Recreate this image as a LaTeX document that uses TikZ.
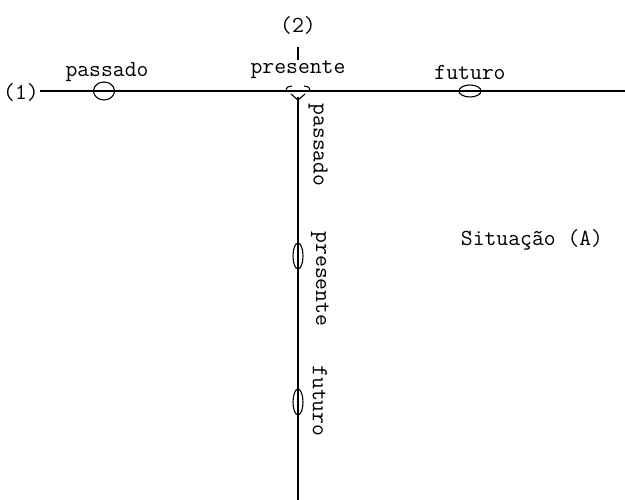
\documentclass[tikz,border=0pt]{standalone}
\usetikzlibrary{shapes.geometric}
\begin{document}
\begin{tikzpicture}[x=1pt,y=-1pt,
  lbl/.style={font=\ttfamily\fontsize{23}{25}\selectfont, inner sep=0pt},
  ln/.style={line width=1.3pt},
  ring/.style={draw, ellipse, line width=1.1pt, inner sep=0pt, fill=white}]
\useasboundingbox (0,0) rectangle (625,500);
% endpoints
\node[lbl] (one) at (21,92) {(1)};
\coordinate (hstart) at (40,91);
\coordinate (hend) at (625,91);
\coordinate (vtop) at (298,97);
\coordinate (vend) at (298,500);
\node[lbl] (two) at (298,25) {(2)};
\coordinate (tickA) at (298,47);
\coordinate (tickB) at (298,60);
% lines
\draw[ln] (hstart) -- (hend);
\draw[ln] (vtop) -- (vend);
\draw[line width=1.1pt] (tickA) -- (tickB);
% horizontal markers
\node[ring, minimum width=21pt, minimum height=18pt] (hp) at (104,91) {};
\draw[ln] (hp.west) -- (hp.east);
\node[ring, minimum width=22pt, minimum height=12pt] (hf) at (470,91) {};
\draw[ln] (hf.west) -- (hf.east);
% presente broken marker
\draw[line width=1.1pt] (286,91) .. controls (286,87) and (289,86) .. (292,86);
\draw[line width=1.1pt] (304,86) .. controls (307,86) and (310,87) .. (310,91);
\draw[line width=1.1pt] (291,94) -- (298,100) -- (305,94);
% vertical markers
\node[ring, minimum width=10pt, minimum height=26pt] (vp) at (298,256) {};
\draw[ln] (vp.north) -- (vp.south);
\node[ring, minimum width=10pt, minimum height=26pt] (vf) at (298,402) {};
\draw[ln] (vf.north) -- (vf.south);
% labels
\node[lbl] (lp) at (107,72) {passado};
\node[lbl] (lpr) at (298,70) {presente};
\node[lbl] (lf) at (470,72) {futuro};
\node[lbl, rotate=-90] (vlp) at (318,145) {passado};
\node[lbl, rotate=-90] (vlpr) at (320,279) {presente};
\node[lbl, rotate=-90] (vlf) at (320,401) {futuro};
\node[lbl] (sit) at (532,240) {Situação (A)};
\end{tikzpicture}
\end{document}
